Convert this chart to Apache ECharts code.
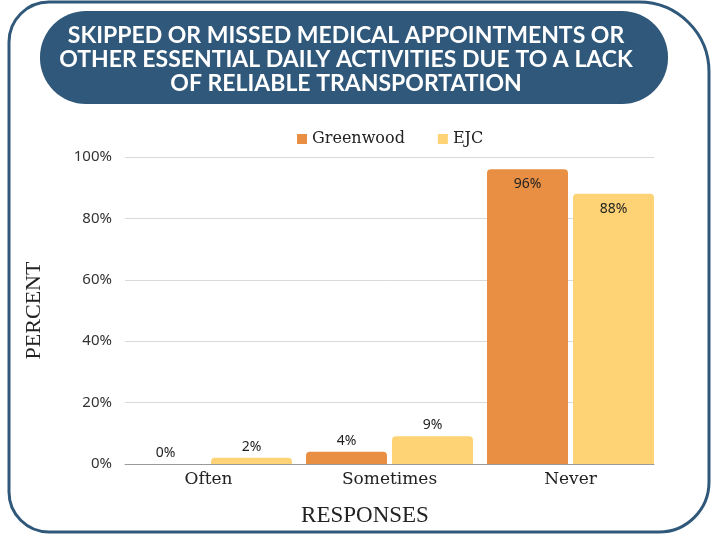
<!DOCTYPE html>
<head>
	<meta charset="utf-8">
	<title>Transportation</title>
	<script src="https://cdn.jsdelivr.net/npm/echarts@6/dist/echarts.min.js"></script>
	<style>
		html, body { margin: 0; padding: 0; background: #ffffff; }
		#main { width: 712px; height: 536px; }
	</style>
</head>
<body>
	<div id="main"></div>
	<script type="text/javascript">
	// data
	var categories = ['Often', 'Sometimes', 'Never'];
	var greenwood = [0, 4, 96];
	var ejc = [2, 9, 88];
	var yTicks = [0, 20, 40, 60, 80, 100];

	var titleLines = [
		'SKIPPED OR MISSED MEDICAL APPOINTMENTS OR',
		'OTHER ESSENTIAL DAILY ACTIVITIES DUE TO A LACK',
		'OF RELIABLE TRANSPORTATION'
	];

	var navy = '#30587a';
	var orange = '#e88f44';
	var yellow = '#fdd375';

	// big bars get the label inside, small ones on top
	function toData(arr) {
		return arr.map(function (v) {
			return {
				value: v,
				label: { position: v > 50 ? 'insideTop' : 'top', distance: v > 50 ? 8 : 4 }
			};
		});
	}

	var myChart = echarts.init(document.getElementById('main'));
	var option = {
		backgroundColor: '#ffffff',
		animation: false,
		textStyle: { fontFamily: 'Noto Sans' },

		graphic: [
			{
				// outer frame
				type: 'rect',
				shape: { x: 9, y: 2, width: 700, height: 530, r: [40, 70, 50, 40] },
				style: { fill: 'none', stroke: navy, lineWidth: 3 },
				z: -1
			},
			{
				// title pill
				type: 'rect',
				shape: { x: 40, y: 11, width: 628, height: 93, r: 46 },
				style: { fill: navy }
			},
			{
				type: 'text',
				x: 346,
				y: 60,
				style: {
					text: titleLines.join('\n'),
					fill: '#ffffff',
					font: 'bold 23px Lato',
					lineHeight: 24,
					align: 'center',
					verticalAlign: 'middle'
				}
			}
		],

		legend: {
			data: ['Greenwood', 'EJC'],
			left: 292,
			top: 126,
			icon: 'rect',
			itemWidth: 10,
			itemHeight: 10,
			itemGap: 33,
			textStyle: { fontFamily: 'DejaVu Serif', fontSize: 16, color: '#222' }
		},

		// grid 0 carries the y axis and gridlines, grid 1 the bars
		grid: [
			{ left: 125, right: 58, top: 157, bottom: 72 },
			{ left: 118, right: 51, top: 157, bottom: 72 }
		],

		xAxis: [
			{
				type: 'category',
				gridIndex: 0,
				data: categories,
				name: 'RESPONSES',
				nameLocation: 'middle',
				nameGap: 40,
				nameTextStyle: { fontFamily: 'Liberation Serif', fontSize: 23, color: '#222', padding: [0, 49, 0, 0] },
				axisTick: { show: false },
				axisLine: { lineStyle: { color: '#9a9a9a' } },
				axisLabel: { show: false }
			},
			{
				type: 'category',
				gridIndex: 1,
				data: categories,
				axisTick: { show: false },
				axisLine: { show: false },
				axisLabel: { fontFamily: 'DejaVu Serif', fontSize: 17, color: '#222', margin: 7 }
			}
		],

		yAxis: [
			{
				type: 'value',
				gridIndex: 0,
				min: 0,
				max: 100,
				interval: 20,
				name: 'PERCENT',
				nameLocation: 'middle',
				nameGap: 80,
				nameRotate: 90,
				nameTextStyle: { fontFamily: 'Liberation Serif', fontSize: 22, color: '#222' },
				axisLabel: {
					fontSize: 15,
					color: '#333',
					margin: 13,
					formatter: function (v) { return yTicks.indexOf(v) >= 0 ? v + '%' : ''; }
				},
				splitLine: { lineStyle: { color: '#d9d9d9' } }
			},
			{
				type: 'value',
				gridIndex: 1,
				min: 0,
				max: 100,
				show: false
			}
		],

		series: [
			{
				name: 'Greenwood',
				type: 'bar',
				xAxisIndex: 1,
				yAxisIndex: 1,
				data: toData(greenwood),
				barWidth: 81,
				barGap: '6.2%',
				itemStyle: { color: orange, borderRadius: [4, 4, 0, 0] },
				label: { show: true, formatter: '{c}%', fontSize: 14, color: '#222' }
			},
			{
				name: 'EJC',
				type: 'bar',
				xAxisIndex: 1,
				yAxisIndex: 1,
				data: toData(ejc),
				barWidth: 81,
				barGap: '6.2%',
				itemStyle: { color: yellow, borderRadius: [4, 4, 0, 0] },
				label: { show: true, formatter: '{c}%', fontSize: 14, color: '#222' }
			}
		]
	};

	myChart.setOption(option);
	</script>
</body>
